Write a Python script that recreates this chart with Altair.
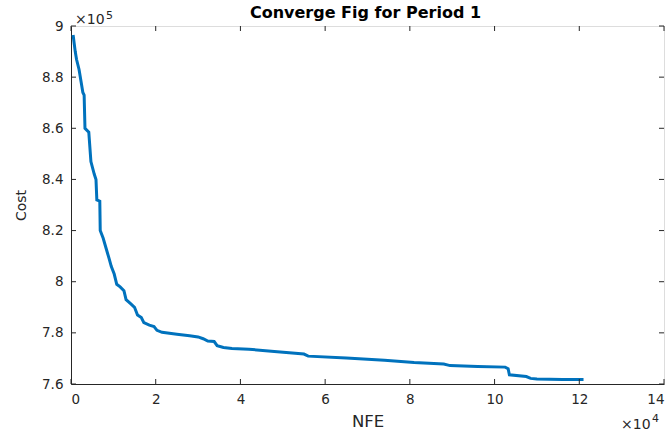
import altair as alt
import pandas as pd

# NFE (x 1e4) and Cost (x 1e5)
nfe = [0.05, 0.10, 0.13, 0.19, 0.24, 0.28, 0.31, 0.33, 0.42, 0.47, 0.55, 0.59,
       0.61, 0.68, 0.69, 0.76, 0.83, 0.90, 0.95, 1.02, 1.08, 1.16, 1.25, 1.30,
       1.40, 1.50, 1.57, 1.66, 1.72, 1.85, 1.96, 2.03, 2.15, 2.50, 2.80, 3.00,
       3.12, 3.23, 3.38, 3.45, 3.60, 3.80, 4.20, 4.80, 5.50, 5.60, 6.50, 7.40,
       8.10, 8.80, 8.95, 9.60, 10.25, 10.32, 10.35, 10.75, 10.85, 11.00, 11.60, 12.10]
cost = [8.965, 8.90, 8.87, 8.83, 8.78, 8.74, 8.73, 8.60, 8.585, 8.47, 8.42, 8.40,
        8.32, 8.315, 8.20, 8.17, 8.13, 8.09, 8.06, 8.03, 7.99, 7.98, 7.965, 7.93,
        7.915, 7.90, 7.87, 7.86, 7.84, 7.83, 7.825, 7.81, 7.802, 7.795, 7.789, 7.784,
        7.777, 7.768, 7.766, 7.75, 7.743, 7.739, 7.736, 7.727, 7.717, 7.709, 7.702, 7.693,
        7.684, 7.678, 7.672, 7.668, 7.666, 7.66, 7.636, 7.629, 7.622, 7.620, 7.618, 7.618]

x_ticks = [0, 2, 4, 6, 8, 10, 12, 14]
y_ticks = [7.6, 7.8, 8.0, 8.2, 8.4, 8.6, 8.8, 9.0]

W, H = 593, 358
FONT = "DejaVu Sans"
AX = "#262626"

df = pd.DataFrame({"NFE": nfe, "Cost": cost})
xt = pd.DataFrame({"NFE": x_ticks})
yt = pd.DataFrame({"Cost": y_ticks})

xscale = alt.Scale(domain=[0, 14], nice=False, zero=False)
yscale = alt.Scale(domain=[7.6, 9.0], nice=False, zero=False)

xaxis = alt.Axis(values=x_ticks, format="~g", grid=False, ticks=False, tickSize=0,
                 labelPadding=8, labelFont=FONT, labelFontSize=13.5, labelColor=AX,
                 domainColor=AX, titleFont=FONT, titleFontSize=16.5, titleFontWeight="normal",
                 titleColor=AX, titleY=42, titleBaseline="alphabetic")
yaxis = alt.Axis(values=y_ticks, format="~g", grid=False, ticks=False, tickSize=0,
                 labelPadding=8, labelFont=FONT, labelFontSize=13.5, labelColor=AX,
                 domainColor=AX, titleFont=FONT, titleFontSize=14, titleFontWeight="normal",
                 titleColor=AX, titleX=-46, titleY=H / 2, titleAngle=-90,
                 titleAlign="center", titleBaseline="alphabetic")

X = alt.X("NFE:Q", scale=xscale, title="NFE", axis=xaxis)
Y = alt.Y("Cost:Q", scale=yscale, title="Cost", axis=yaxis)

line = alt.Chart(df).mark_line(color="#0072BD", strokeWidth=3).encode(x=X, y=Y)

tick_len = 5
bottom_ticks = alt.Chart(xt).mark_rule(color=AX, strokeWidth=1).encode(
    x=X, y=alt.value(H), y2=alt.value(H - tick_len))
top_ticks = alt.Chart(xt).mark_rule(color=AX, strokeWidth=1).encode(
    x=X, y=alt.value(0), y2=alt.value(tick_len))
left_ticks = alt.Chart(yt).mark_rule(color=AX, strokeWidth=1).encode(
    y=Y, x=alt.value(0), x2=alt.value(tick_len))
right_ticks = alt.Chart(yt).mark_rule(color=AX, strokeWidth=1).encode(
    y=Y, x=alt.value(W), x2=alt.value(W - tick_len))

txt_df = pd.DataFrame({"title": ["Converge Fig for Period 1"], "base": ["×10"],
                       "e5": ["5"], "e4": ["4"]})
title = alt.Chart(txt_df).mark_text(font=FONT, fontSize=16, fontWeight="bold", color="#000000",
                                    align="center", baseline="alphabetic").encode(
    x=alt.value(W / 2 - 2), y=alt.value(-8), text="title:N")
exp5_base = alt.Chart(txt_df).mark_text(font=FONT, fontSize=14, color=AX, align="left",
                                        baseline="alphabetic").encode(
    x=alt.value(4), y=alt.value(-2), text="base:N")
exp5_sup = alt.Chart(txt_df).mark_text(font=FONT, fontSize=11, color=AX, align="left",
                                       baseline="alphabetic").encode(
    x=alt.value(35), y=alt.value(-7), text="e5:N")
exp4_base = alt.Chart(txt_df).mark_text(font=FONT, fontSize=14, color=AX, align="left",
                                        baseline="alphabetic").encode(
    x=alt.value(550), y=alt.value(403), text="base:N")
exp4_sup = alt.Chart(txt_df).mark_text(font=FONT, fontSize=11, color=AX, align="left",
                                       baseline="alphabetic").encode(
    x=alt.value(581), y=alt.value(396), text="e4:N")

chart = alt.layer(
    line, bottom_ticks, top_ticks, left_ticks, right_ticks,
    title, exp5_base, exp5_sup, exp4_base, exp4_sup,
).properties(
    width=W, height=H,
    autosize=alt.AutoSizeParams(type="none"),
    padding={"left": 71, "top": 26, "right": 8, "bottom": 51},
).configure_view(stroke=AX, strokeWidth=1).configure(background="white")

chart.save("out.html", embed_options={"renderer": "svg", "actions": False})
